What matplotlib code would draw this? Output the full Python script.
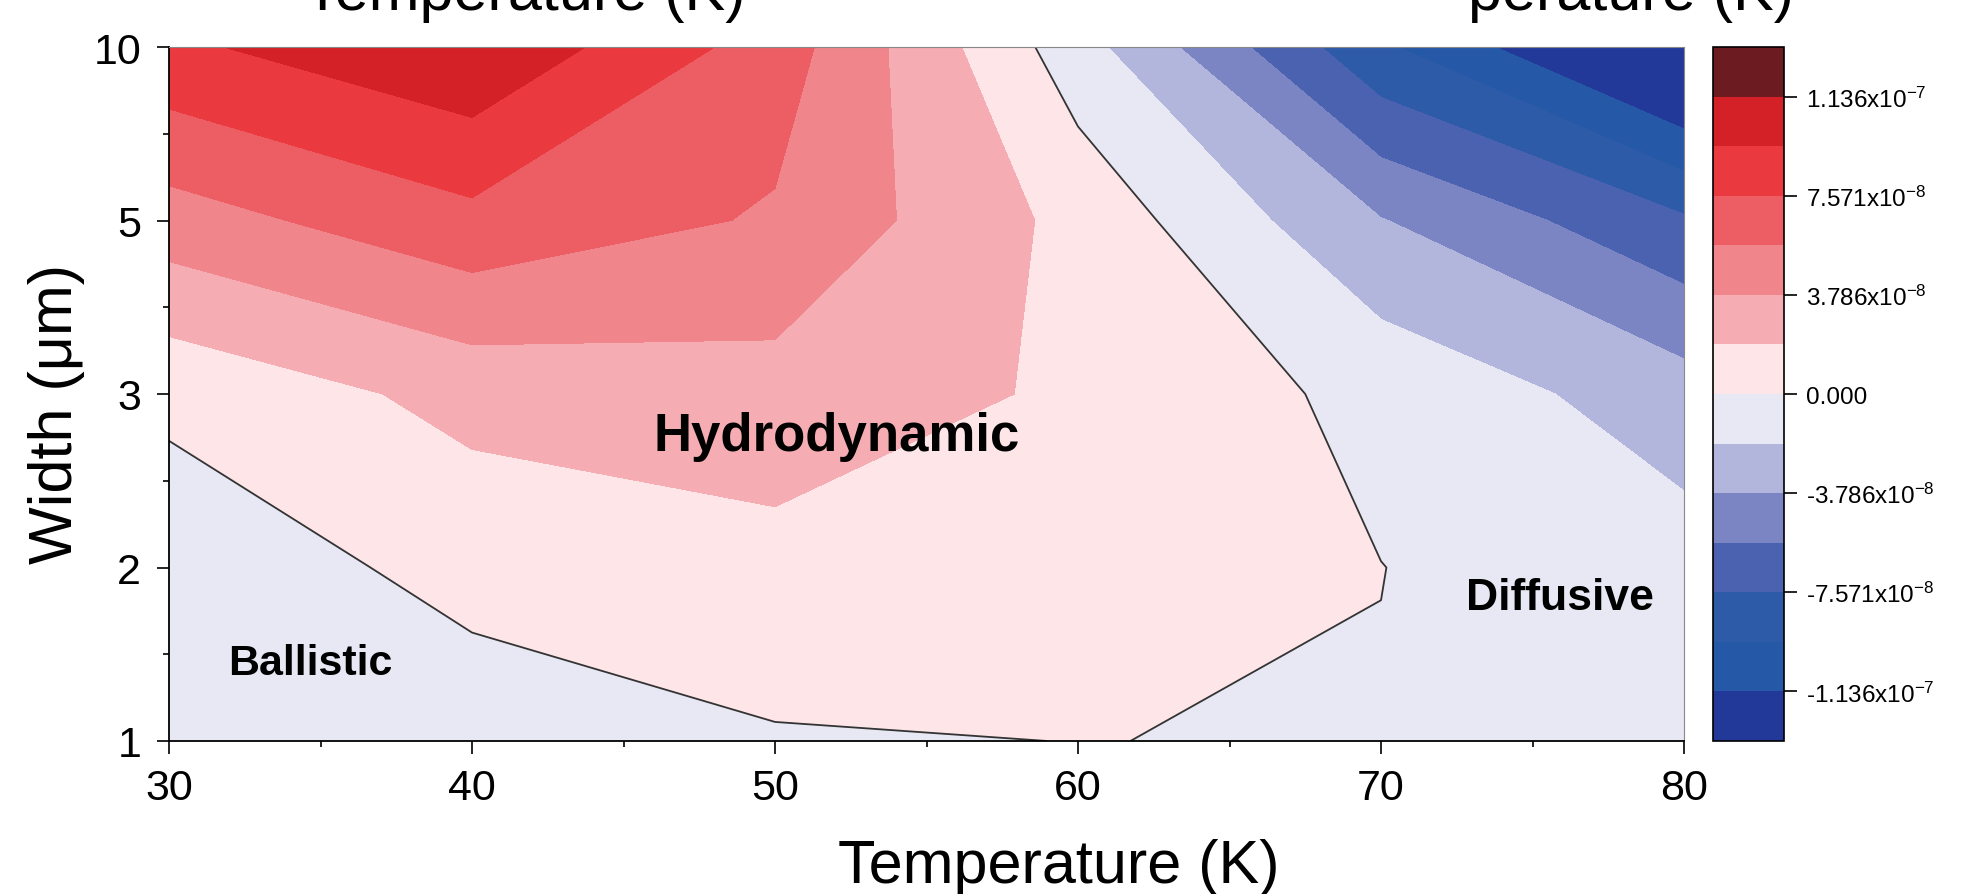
import numpy as np
import matplotlib
matplotlib.use("Agg")
import matplotlib.pyplot as plt
from matplotlib.colors import ListedColormap, BoundaryNorm
from matplotlib.cm import ScalarMappable

plt.rcParams["font.family"] = ["Liberation Sans", "DejaVu Sans"]
plt.rcParams["mathtext.fontset"] = "custom"
plt.rcParams["mathtext.rm"] = "Liberation Sans"
plt.rcParams["mathtext.it"] = "Liberation Sans:italic"
plt.rcParams["mathtext.bf"] = "Liberation Sans:bold"

# grid of the map: temperature (K) along x, channel width (um) along y
temps = [30, 40, 50, 60, 70, 80]
widths = [1, 2, 3, 5, 10]

# signal in units of 1e-8, one list per width
w1 = [-1.50, -1.00, -0.158, 0.018, -0.086, -1.00]
w2 = [-1.19, 0.60, 1.28, 1.00, 0.02, -1.10]
w3 = [0.44, 2.50, 3.03, 1.59, -0.53, -2.90]
w5 = [4.82, 7.04, 5.45, 1.30, -3.70, -7.30]
w10 = [9.10, 11.12, 6.69, -1.10, -9.16, -15.0]

step = 11.357 / 6
levels = step * np.arange(-7, 8)
band_colors = ["#22399a", "#2558a7", "#2e5ba8", "#4a62af", "#7c85c3",
               "#b3b6dc", "#e7e8f3", "#fde5e8", "#f5adb3", "#f0868c",
               "#ed5d64", "#ea393f", "#d42128", "#6c1c20"]
cb_ticks = [-11.357, -7.571, -3.786, 0, 3.786, 7.571, 11.357]
cb_labels = [r"-1.136x10$^{-7}$", r"-7.571x10$^{-8}$", r"-3.786x10$^{-8}$",
             "0.000", r"3.786x10$^{-8}$", r"7.571x10$^{-8}$", r"1.136x10$^{-7}$"]

Z = np.array([w1, w2, w3, w5, w10])
X, Y = np.meshgrid(temps, np.arange(len(widths)))

cmap = ListedColormap(band_colors)
cmap.set_under(band_colors[0])
cmap.set_over(band_colors[-1])

fig = plt.figure(figsize=(19.66, 8.95), dpi=100)
ax = fig.add_axes([169 / 1966, 153 / 895, 1515 / 1966, 694 / 895])

ax.contourf(X, Y, Z, levels=levels, cmap=cmap, extend="both")
ax.contour(X, Y, Z, levels=[0], colors="#333333", linewidths=1.3)

ax.set_xlim(30, 80)
ax.set_ylim(0, len(widths) - 1)
ax.set_xticks(temps)
ax.set_xticks(np.arange(35, 80, 10), minor=True)
ax.set_yticks(range(len(widths)))
ax.set_yticklabels([str(w) for w in widths])
ax.set_yticks(np.arange(0.5, len(widths) - 1, 1), minor=True)
ax.tick_params(which="major", direction="out", length=9, width=1.2,
               labelsize=31)
ax.tick_params(axis="x", which="major", pad=10.5)
ax.tick_params(axis="y", which="major", pad=11)
ax.tick_params(which="minor", direction="out", length=4.5, width=1.2)
for s in ["left", "bottom"]:
    ax.spines[s].set_linewidth(1.3)
for s in ["top", "right"]:
    ax.spines[s].set_linewidth(0.8)
    ax.spines[s].set_color("#888888")

ax.set_xlabel("Temperature (K)", fontsize=44)
ax.xaxis.label.set_va("baseline")
ax.xaxis.set_label_coords(0.587, -0.203)
ax.set_ylabel("Width (\u03bcm)", fontsize=44)
ax.yaxis.label.set_va("baseline")
ax.yaxis.set_label_coords(-0.064, 0.473)

ax.text(31.95, 0.386, "Ballistic", fontsize=31, fontweight="bold")
ax.text(46.0, 1.68, "Hydrodynamic", fontsize=38, fontweight="bold")
ax.text(72.8, 0.76, "Diffusive", fontsize=32, fontweight="bold")

# colorbar
cax = fig.add_axes([1713 / 1966, 153 / 895, 71 / 1966, 694 / 895])
sm = ScalarMappable(norm=BoundaryNorm(levels, len(band_colors)), cmap=cmap)
cb = fig.colorbar(sm, cax=cax, ticks=cb_ticks)
cb.set_ticklabels(cb_labels)
cb.minorticks_off()
cb.ax.tick_params(labelsize=17.5, length=9, width=1.2, pad=7)
cb.outline.set_linewidth(1.2)

# clipped axis titles of the panels above
fig.text(746 / 1966, 1 - 10 / 895, "Temperature (K)", fontsize=44,
         ha="right", va="baseline")
fig.text(1794 / 1966, 1 - 10 / 895, "perature (K)", fontsize=44,
         ha="right", va="baseline")

fig.savefig("out.png", dpi=100)
